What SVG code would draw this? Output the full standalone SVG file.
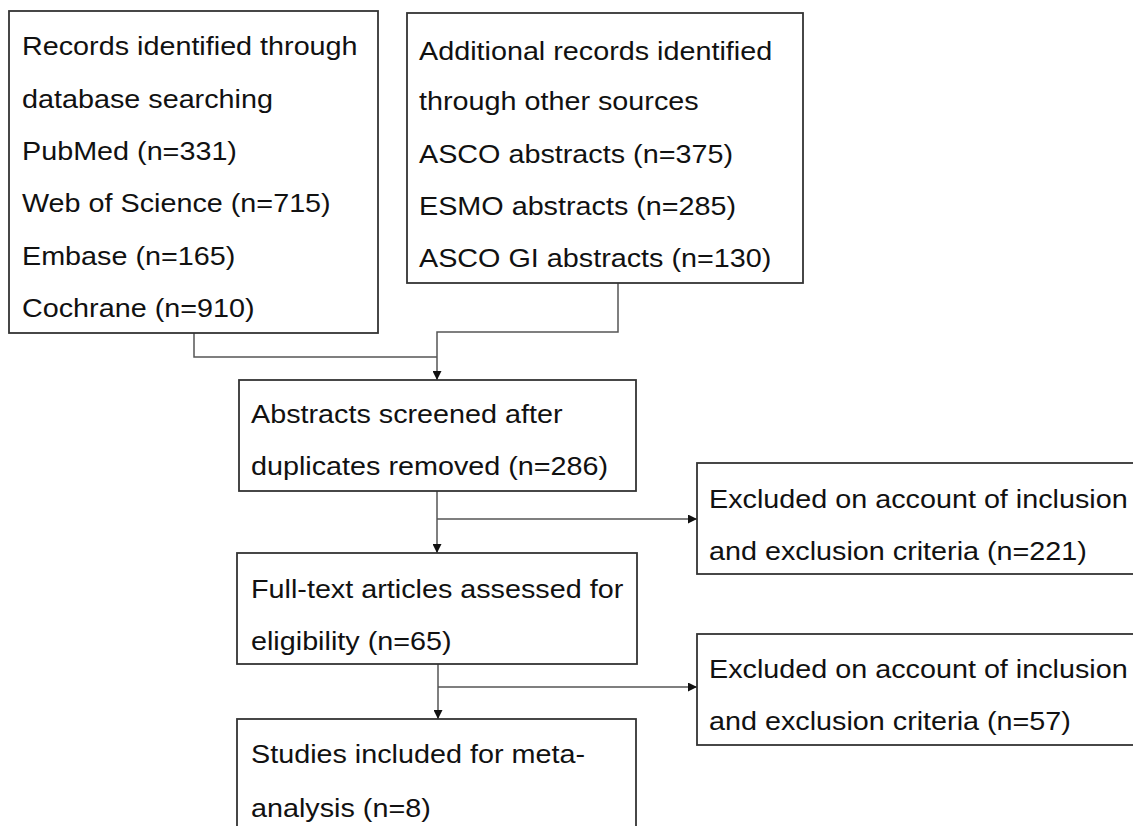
<svg xmlns="http://www.w3.org/2000/svg" width="1133" height="826" viewBox="0 0 1133 826">
<style>
.box{fill:#fff;stroke:#333;stroke-width:1.8}
.t{font-family:"Liberation Sans",Arial,sans-serif;font-size:25px;fill:#111}
.c{fill:none;stroke:#555;stroke-width:1.5}
</style>
<defs>
<marker id="ah" viewBox="0 0 10 10" refX="10" refY="5" markerWidth="10" markerHeight="9" markerUnits="userSpaceOnUse" orient="auto"><path d="M0,0 L10,5 L0,10 z" fill="#111"/></marker>
</defs>
<rect width="1133" height="826" fill="#fff"/>
<g id="connectors">
<path class="c" d="M194,333 V357 H437"/>
<path class="c" d="M618,283 V332 H437 V380" marker-end="url(#ah)"/>
<path class="c" d="M437,491 V553" marker-end="url(#ah)"/>
<path class="c" d="M437,519 H697" marker-end="url(#ah)"/>
<path class="c" d="M438,664 V719" marker-end="url(#ah)"/>
<path class="c" d="M438,687 H697" marker-end="url(#ah)"/>
</g>
<g id="n1">
<rect class="box" x="9" y="11" width="369" height="322"/>
<text class="t" transform="translate(22,55) scale(1.15,1)">Records identified through</text>
<text class="t" transform="translate(22,108) scale(1.15,1)">database searching</text>
<text class="t" transform="translate(22,160) scale(1.15,1)">PubMed (n=331)</text>
<text class="t" transform="translate(22,212) scale(1.15,1)">Web of Science (n=715)</text>
<text class="t" transform="translate(22,265) scale(1.15,1)">Embase (n=165)</text>
<text class="t" transform="translate(22,317) scale(1.15,1)">Cochrane (n=910)</text>
</g>
<g id="n2">
<rect class="box" x="407" y="13" width="396" height="270"/>
<text class="t" transform="translate(419,60) scale(1.15,1)">Additional records identified</text>
<text class="t" transform="translate(419,110) scale(1.15,1)">through other sources</text>
<text class="t" transform="translate(419,163) scale(1.15,1)">ASCO abstracts (n=375)</text>
<text class="t" transform="translate(419,215) scale(1.15,1)">ESMO abstracts (n=285)</text>
<text class="t" transform="translate(419,267) scale(1.15,1)">ASCO GI abstracts (n=130)</text>
</g>
<g id="n3">
<rect class="box" x="239" y="380" width="397" height="111"/>
<text class="t" transform="translate(251,423) scale(1.15,1)">Abstracts screened after</text>
<text class="t" transform="translate(251,475) scale(1.15,1)">duplicates removed (n=286)</text>
</g>
<g id="n4">
<rect class="box" x="237" y="553" width="400" height="111"/>
<text class="t" transform="translate(251,598) scale(1.15,1)">Full-text articles assessed for</text>
<text class="t" transform="translate(251,650) scale(1.15,1)">eligibility (n=65)</text>
</g>
<g id="n5">
<rect class="box" x="697" y="463" width="450" height="111"/>
<text class="t" transform="translate(709,508) scale(1.15,1)">Excluded on account of inclusion</text>
<text class="t" transform="translate(709,560) scale(1.15,1)">and exclusion criteria (n=221)</text>
</g>
<g id="n6">
<rect class="box" x="697" y="634" width="450" height="111"/>
<text class="t" transform="translate(709,678) scale(1.15,1)">Excluded on account of inclusion</text>
<text class="t" transform="translate(709,730) scale(1.15,1)">and exclusion criteria (n=57)</text>
</g>
<g id="n7">
<rect class="box" x="237" y="719" width="399" height="120"/>
<text class="t" transform="translate(251,763) scale(1.15,1)">Studies included for meta-</text>
<text class="t" transform="translate(251,817) scale(1.15,1)">analysis (n=8)</text>
</g>
</svg>
